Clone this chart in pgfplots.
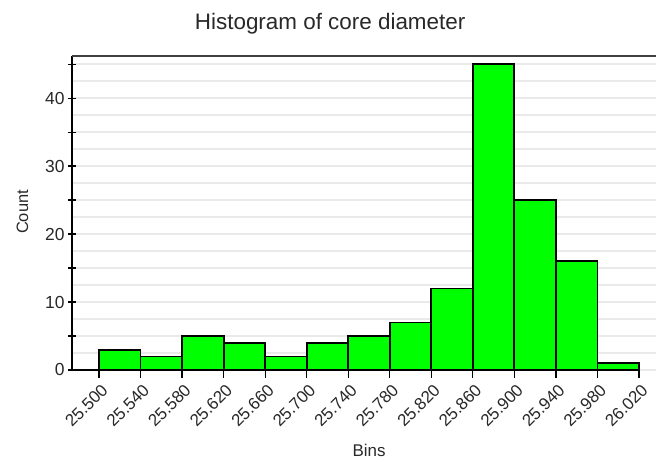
\documentclass[border=0pt]{standalone}
\usepackage{pgfplots}
\pgfplotsset{compat=1.18}
\usepackage{fontspec}
\setmainfont{Liberation Sans}
\definecolor{bargreen}{RGB}{0,255,0}
\definecolor{gridgray}{RGB}{234,234,234}
\definecolor{txt}{RGB}{40,40,40}
\begin{document}
\begin{tikzpicture}[x=1bp,y=1bp]
\path[use as bounding box] (0,0) rectangle (656,462);
\begin{axis}[
  at={(72bp,92bp)}, anchor=south west,
  scale only axis, width=584bp, height=314bp,
  xmin=25.474, xmax=26.0364, ymin=0, ymax=46.2,
  axis line style={draw=none},
  xtick={25.50,25.54,25.58,25.62,25.66,25.70,25.74,25.78,25.82,25.86,25.90,25.94,25.98,26.02},
  xtick pos=bottom, xtick align=outside,
  ytick={0,10,20,30,40}, ytick pos=left, ytick align=center,
  extra y ticks={5,15,25,35,45}, extra y tick labels={},
  extra y tick style={grid=none, ytick align=center},
  minor ytick={2.5,5,...,45},
  minor tick length=0pt,
  major tick length=8bp,
  ymajorgrids, yminorgrids,
  major grid style={gridgray, line width=1.5bp},
  minor grid style={gridgray, line width=1.5bp},
  tick style={black, line width=1.2bp},
  xticklabel style={rotate=45, anchor=north east, font=\fontsize{17}{19}\selectfont, text=txt, xshift=1bp, yshift=-1bp},
  yticklabel style={font=\fontsize{17.5}{19}\selectfont, text=txt},
  /pgf/number format/assume math mode=true,
  xticklabel={\pgfmathprintnumber[fixed, fixed zerofill, precision=3, 1000 sep={}]{\tick}},
  yticklabel={\pgfmathprintnumber{\tick}},
  title={Histogram of core diameter},
  title style={at={(0.442,1)}, anchor=base, yshift=21bp, font=\fontsize{22.5}{25}\selectfont, text=txt},
  xlabel={Bins},
  xlabel style={at={(0.5086,0)}, anchor=base, yshift=-86.7bp, font=\fontsize{17}{19}\selectfont, text=txt},
  ylabel={Count},
  ylabel style={at={(rel axis cs:0,0.503)}, anchor=base, yshift=44bp, font=\fontsize{16.5}{19}\selectfont, text=txt},
  clip=false,
]
\addplot[ybar interval, fill=bargreen, draw=black, line width=1.8bp] coordinates {
(25.50,3) (25.54,2) (25.58,5) (25.62,4) (25.66,2) (25.70,4) (25.74,5)
(25.78,7) (25.82,12) (25.86,45) (25.90,25) (25.94,16) (25.98,1) (26.02,1)
};
\draw[black, line width=1.4bp] (rel axis cs:0,1) -- (rel axis cs:0,0) -- (axis cs:26.02,0);
\draw[black!75, line width=1.4bp] (rel axis cs:0,1) -- (rel axis cs:1,1);
\end{axis}
\end{tikzpicture}
\end{document}
